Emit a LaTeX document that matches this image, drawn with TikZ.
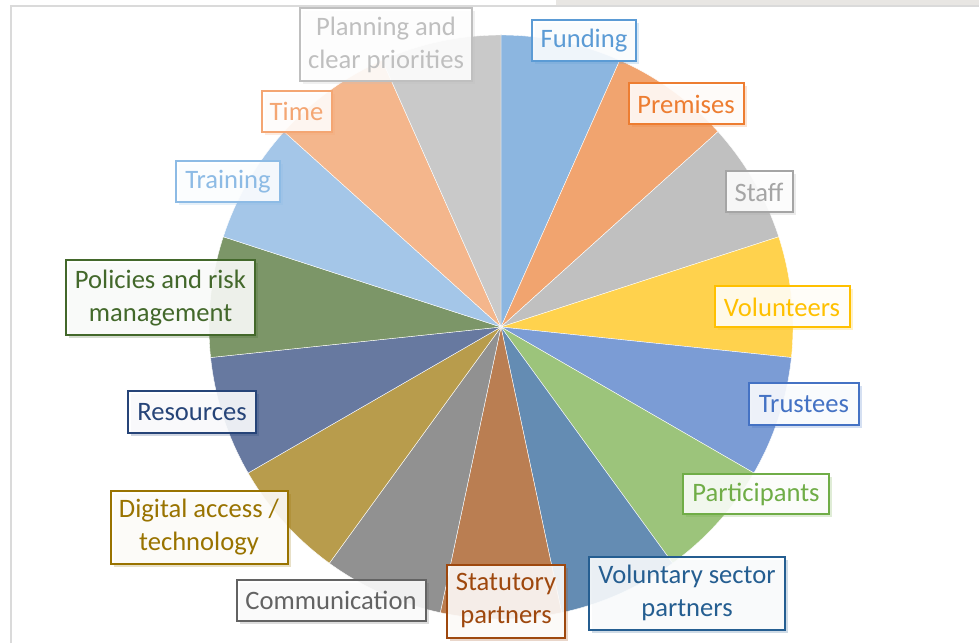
\documentclass[tikz,border=0pt]{standalone}
\usepackage{fontspec}
\setmainfont{Carlito}
\usetikzlibrary{shadows}
\definecolor{sFund}{HTML}{8CB6E0}
\definecolor{sPrem}{HTML}{F1A46F}
\definecolor{sStaff}{HTML}{C0C0C0}
\definecolor{sVol}{HTML}{FFD24D}
\definecolor{sTrus}{HTML}{7B9CD5}
\definecolor{sPart}{HTML}{9CC47B}
\definecolor{sVsp}{HTML}{648CB3}
\definecolor{sStat}{HTML}{BA7E52}
\definecolor{sComm}{HTML}{919191}
\definecolor{sDig}{HTML}{B89C4C}
\definecolor{sRes}{HTML}{6779A0}
\definecolor{sPol}{HTML}{7C9668}
\definecolor{sTrain}{HTML}{A4C6E8}
\definecolor{sTime}{HTML}{F4B68C}
\definecolor{sPlan}{HTML}{C9C9C9}
\definecolor{lFund}{HTML}{5B9BD5}
\definecolor{lPrem}{HTML}{ED7D31}
\definecolor{lStaff}{HTML}{A5A5A5}
\definecolor{lVol}{HTML}{FFC000}
\definecolor{lTrus}{HTML}{4472C4}
\definecolor{lPart}{HTML}{70AD47}
\definecolor{lVsp}{HTML}{255E91}
\definecolor{lStat}{HTML}{9E480E}
\definecolor{lComm}{HTML}{636363}
\definecolor{lDig}{HTML}{997300}
\definecolor{lRes}{HTML}{264478}
\definecolor{lPol}{HTML}{43682B}
\definecolor{lTrain}{HTML}{8DBBE5}
\definecolor{lTime}{HTML}{F4A673}
\definecolor{lPlan}{HTML}{BFBFBF}
\definecolor{frameline}{HTML}{DADADA}
\definecolor{topband}{HTML}{E8E6E3}
\newcommand{\lbfont}{\fontsize{26.6}{33}\selectfont}
\tikzset{
  lbl/.style={draw=#1, text=#1, line width=2pt, fill=white, fill opacity=0.88,
    text opacity=1, inner sep=0pt, align=center, font=\lbfont,
    drop shadow={opacity=0.22, fill=#1, shadow xshift=3pt, shadow yshift=-3pt}},
  slice/.style={fill=#1, draw=white, line width=0.4pt}
}
\begin{document}
\begin{tikzpicture}[x=1pt,y=1pt]
\useasboundingbox (0,0) rectangle (979,643);
\fill[white] (0,0) rectangle (979,643);
% frame
\fill[topband] (556,637) rectangle (979,643);
\draw[frameline, line width=2pt] (11,0) -- (11,637) -- (979,637);
% pie
\coordinate (O) at (501,316);
\foreach \a/\c in {66/sFund,42/sPrem,18/sStaff,-6/sVol,-30/sTrus,-54/sPart,-78/sVsp,-102/sStat,-126/sComm,-150/sDig,-174/sRes,-198/sPol,-222/sTrain,-246/sTime,-270/sPlan}{
  \filldraw[slice=\c] (O) -- ++(\a:292) arc[start angle=\a, end angle=\a+24, radius=292] -- cycle;
}
% labels
\node[lbl=lPlan, minimum width=172, minimum height=73] (plan) at (386,598.5) {Planning and\\clear priorities};
\node[lbl=lFund, minimum width=104, minimum height=41] (fund) at (584,602.5) {Funding};
\node[lbl=lPrem, minimum width=115, minimum height=41] (prem) at (686,539) {Premises};
\node[lbl=lStaff, minimum width=67, minimum height=41] (staff) at (759,451) {Staff};
\node[lbl=lVol, minimum width=135, minimum height=41] (vol) at (782,336) {Volunteers};
\node[lbl=lTrus, minimum width=110, minimum height=41] (trus) at (804,239) {Trustees};
\node[lbl=lPart, minimum width=146, minimum height=40] (part) at (756,149) {Participants};
\node[lbl=lVsp, minimum width=196, minimum height=73] (vsp) at (687,50) {Voluntary sector\\partners};
\node[lbl=lStat, minimum width=118, minimum height=73] (stat) at (506,42) {Statutory\\partners};
\node[lbl=lComm, minimum width=189, minimum height=41] (comm) at (331,43) {Communication};
\node[lbl=lDig, minimum width=177, minimum height=73] (dig) at (199,116) {Digital access /\\technology};
\node[lbl=lRes, minimum width=128, minimum height=42] (res) at (192,231) {Resources};
\node[lbl=lPol, minimum width=189, minimum height=75] (pol) at (160.5,345) {Policies and risk\\management};
\node[lbl=lTrain, minimum width=104, minimum height=41] (train) at (228,461) {Training};
\node[lbl=lTime, minimum width=70, minimum height=41] (time) at (296.5,531.5) {Time};
\end{tikzpicture}
\end{document}
